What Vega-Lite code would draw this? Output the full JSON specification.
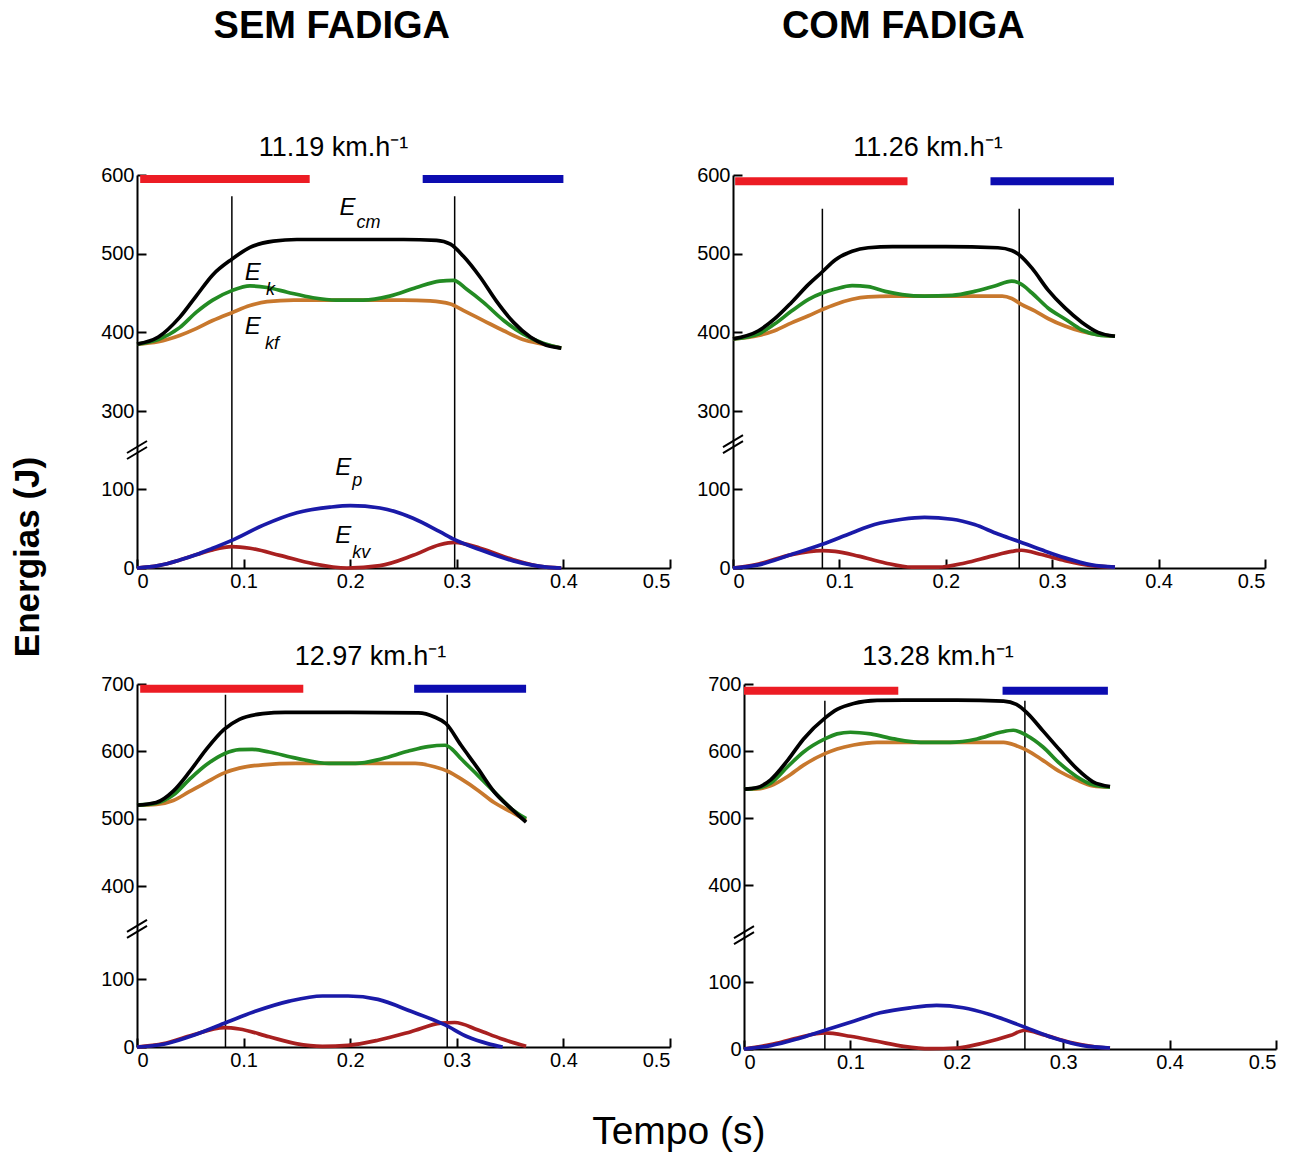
{
  "$schema": "https://vega.github.io/schema/vega-lite/v6.json",
  "background": "white",
  "padding": {"left": 10, "top": 8, "right": 5, "bottom": 5},
  "config": {
    "view": {"stroke": null},
    "font": "Liberation Sans",
    "axis": {"domainColor": "#000", "domainWidth": 2, "tickColor": "#000", "tickWidth": 2, "tickSize": -9, "labelPadding": 12, "labelFont": "Liberation Sans", "labelFontSize": 20, "labelColor": "#000", "grid": false},
    "title": {"font": "Liberation Sans", "fontSize": 27, "fontWeight": "normal", "color": "#000", "offset": 3}
  },
  "datasets": {
    "lines": [
      {"p":1,"s":"kf","t":0,"E":385},{"p":1,"s":"kf","t":0.02,"E":388},{"p":1,"s":"kf","t":0.04,"E":396},{"p":1,"s":"kf","t":0.056,"E":405},{"p":1,"s":"kf","t":0.071,"E":415},{"p":1,"s":"kf","t":0.089,"E":425},{"p":1,"s":"kf","t":0.106,"E":434},{"p":1,"s":"kf","t":0.122,"E":439},{"p":1,"s":"kf","t":0.147,"E":441},{"p":1,"s":"kf","t":0.2,"E":441},{"p":1,"s":"kf","t":0.25,"E":441},{"p":1,"s":"kf","t":0.275,"E":440},{"p":1,"s":"kf","t":0.294,"E":436},{"p":1,"s":"kf","t":0.306,"E":428},{"p":1,"s":"kf","t":0.325,"E":415},{"p":1,"s":"kf","t":0.344,"E":402},{"p":1,"s":"kf","t":0.362,"E":391},{"p":1,"s":"kf","t":0.381,"E":385},{"p":1,"s":"kf","t":0.398,"E":380},
      {"p":1,"s":"k","t":0,"E":385},{"p":1,"s":"k","t":0.02,"E":391},{"p":1,"s":"k","t":0.04,"E":406},{"p":1,"s":"k","t":0.056,"E":426},{"p":1,"s":"k","t":0.071,"E":441},{"p":1,"s":"k","t":0.089,"E":453},{"p":1,"s":"k","t":0.106,"E":459},{"p":1,"s":"k","t":0.122,"E":457},{"p":1,"s":"k","t":0.141,"E":451},{"p":1,"s":"k","t":0.165,"E":444},{"p":1,"s":"k","t":0.187,"E":441},{"p":1,"s":"k","t":0.212,"E":441},{"p":1,"s":"k","t":0.237,"E":446},{"p":1,"s":"k","t":0.262,"E":457},{"p":1,"s":"k","t":0.284,"E":465},{"p":1,"s":"k","t":0.297,"E":466},{"p":1,"s":"k","t":0.309,"E":455},{"p":1,"s":"k","t":0.325,"E":438},{"p":1,"s":"k","t":0.344,"E":415},{"p":1,"s":"k","t":0.362,"E":398},{"p":1,"s":"k","t":0.381,"E":386},{"p":1,"s":"k","t":0.398,"E":380},
      {"p":1,"s":"cm","t":0,"E":385},{"p":1,"s":"cm","t":0.02,"E":394},{"p":1,"s":"cm","t":0.04,"E":419},{"p":1,"s":"cm","t":0.056,"E":447},{"p":1,"s":"cm","t":0.071,"E":473},{"p":1,"s":"cm","t":0.089,"E":493},{"p":1,"s":"cm","t":0.106,"E":508},{"p":1,"s":"cm","t":0.128,"E":516},{"p":1,"s":"cm","t":0.15,"E":518},{"p":1,"s":"cm","t":0.2,"E":518},{"p":1,"s":"cm","t":0.25,"E":518},{"p":1,"s":"cm","t":0.281,"E":517},{"p":1,"s":"cm","t":0.294,"E":512},{"p":1,"s":"cm","t":0.306,"E":497},{"p":1,"s":"cm","t":0.322,"E":470},{"p":1,"s":"cm","t":0.337,"E":440},{"p":1,"s":"cm","t":0.353,"E":413},{"p":1,"s":"cm","t":0.369,"E":394},{"p":1,"s":"cm","t":0.384,"E":383.5},{"p":1,"s":"cm","t":0.398,"E":380},
      {"p":1,"s":"kv","t":0,"E":0},{"p":1,"s":"kv","t":0.02,"E":3},{"p":1,"s":"kv","t":0.04,"E":10},{"p":1,"s":"kv","t":0.056,"E":17},{"p":1,"s":"kv","t":0.071,"E":23},{"p":1,"s":"kv","t":0.089,"E":27},{"p":1,"s":"kv","t":0.106,"E":25},{"p":1,"s":"kv","t":0.134,"E":16},{"p":1,"s":"kv","t":0.165,"E":5.5},{"p":1,"s":"kv","t":0.197,"E":0},{"p":1,"s":"kv","t":0.228,"E":3},{"p":1,"s":"kv","t":0.259,"E":16},{"p":1,"s":"kv","t":0.284,"E":29.5},{"p":1,"s":"kv","t":0.298,"E":32.5},{"p":1,"s":"kv","t":0.322,"E":25},{"p":1,"s":"kv","t":0.353,"E":10.5},{"p":1,"s":"kv","t":0.378,"E":2},{"p":1,"s":"kv","t":0.398,"E":0},
      {"p":1,"s":"p","t":0,"E":0},{"p":1,"s":"p","t":0.02,"E":3},{"p":1,"s":"p","t":0.04,"E":10},{"p":1,"s":"p","t":0.056,"E":17},{"p":1,"s":"p","t":0.071,"E":25},{"p":1,"s":"p","t":0.089,"E":35},{"p":1,"s":"p","t":0.118,"E":54},{"p":1,"s":"p","t":0.15,"E":70},{"p":1,"s":"p","t":0.181,"E":77},{"p":1,"s":"p","t":0.2,"E":79},{"p":1,"s":"p","t":0.228,"E":76},{"p":1,"s":"p","t":0.259,"E":63},{"p":1,"s":"p","t":0.284,"E":46},{"p":1,"s":"p","t":0.298,"E":36},{"p":1,"s":"p","t":0.322,"E":23},{"p":1,"s":"p","t":0.353,"E":9},{"p":1,"s":"p","t":0.384,"E":1},{"p":1,"s":"p","t":0.398,"E":0},

      {"p":2,"s":"kf","t":0,"E":391.6},{"p":2,"s":"kf","t":0.024,"E":396},{"p":2,"s":"kf","t":0.039,"E":402},{"p":2,"s":"kf","t":0.055,"E":412},{"p":2,"s":"kf","t":0.071,"E":421},{"p":2,"s":"kf","t":0.084,"E":429},{"p":2,"s":"kf","t":0.096,"E":435.5},{"p":2,"s":"kf","t":0.112,"E":442},{"p":2,"s":"kf","t":0.127,"E":445},{"p":2,"s":"kf","t":0.149,"E":446},{"p":2,"s":"kf","t":0.2,"E":446},{"p":2,"s":"kf","t":0.253,"E":446},{"p":2,"s":"kf","t":0.262,"E":443},{"p":2,"s":"kf","t":0.271,"E":435.6},{"p":2,"s":"kf","t":0.284,"E":427},{"p":2,"s":"kf","t":0.296,"E":417.6},{"p":2,"s":"kf","t":0.312,"E":408},{"p":2,"s":"kf","t":0.328,"E":401},{"p":2,"s":"kf","t":0.343,"E":397},{"p":2,"s":"kf","t":0.359,"E":395},
      {"p":2,"s":"k","t":0,"E":391.6},{"p":2,"s":"k","t":0.024,"E":398},{"p":2,"s":"k","t":0.039,"E":410.5},{"p":2,"s":"k","t":0.055,"E":427},{"p":2,"s":"k","t":0.071,"E":442},{"p":2,"s":"k","t":0.084,"E":450},{"p":2,"s":"k","t":0.096,"E":455},{"p":2,"s":"k","t":0.112,"E":459.4},{"p":2,"s":"k","t":0.127,"E":458},{"p":2,"s":"k","t":0.143,"E":452},{"p":2,"s":"k","t":0.159,"E":448},{"p":2,"s":"k","t":0.18,"E":446},{"p":2,"s":"k","t":0.206,"E":447},{"p":2,"s":"k","t":0.227,"E":452},{"p":2,"s":"k","t":0.246,"E":459},{"p":2,"s":"k","t":0.262,"E":465},{"p":2,"s":"k","t":0.27,"E":462},{"p":2,"s":"k","t":0.281,"E":450},{"p":2,"s":"k","t":0.296,"E":431},{"p":2,"s":"k","t":0.312,"E":417},{"p":2,"s":"k","t":0.328,"E":403},{"p":2,"s":"k","t":0.343,"E":396.7},{"p":2,"s":"k","t":0.359,"E":395},
      {"p":2,"s":"cm","t":0,"E":391.6},{"p":2,"s":"cm","t":0.024,"E":402},{"p":2,"s":"cm","t":0.039,"E":417},{"p":2,"s":"cm","t":0.055,"E":438},{"p":2,"s":"cm","t":0.071,"E":461},{"p":2,"s":"cm","t":0.084,"E":477},{"p":2,"s":"cm","t":0.096,"E":492},{"p":2,"s":"cm","t":0.112,"E":503},{"p":2,"s":"cm","t":0.127,"E":507.5},{"p":2,"s":"cm","t":0.15,"E":509},{"p":2,"s":"cm","t":0.2,"E":509},{"p":2,"s":"cm","t":0.249,"E":507.5},{"p":2,"s":"cm","t":0.262,"E":504},{"p":2,"s":"cm","t":0.268,"E":499.6},{"p":2,"s":"cm","t":0.281,"E":481.6},{"p":2,"s":"cm","t":0.296,"E":454},{"p":2,"s":"cm","t":0.312,"E":431},{"p":2,"s":"cm","t":0.328,"E":412.6},{"p":2,"s":"cm","t":0.343,"E":400},{"p":2,"s":"cm","t":0.359,"E":395},
      {"p":2,"s":"kv","t":0,"E":0},{"p":2,"s":"kv","t":0.024,"E":5},{"p":2,"s":"kv","t":0.055,"E":17},{"p":2,"s":"kv","t":0.084,"E":22},{"p":2,"s":"kv","t":0.096,"E":21},{"p":2,"s":"kv","t":0.118,"E":15},{"p":2,"s":"kv","t":0.143,"E":6.4},{"p":2,"s":"kv","t":0.168,"E":1},{"p":2,"s":"kv","t":0.193,"E":1},{"p":2,"s":"kv","t":0.218,"E":6.4},{"p":2,"s":"kv","t":0.243,"E":15},{"p":2,"s":"kv","t":0.262,"E":21},{"p":2,"s":"kv","t":0.271,"E":22.5},{"p":2,"s":"kv","t":0.29,"E":17},{"p":2,"s":"kv","t":0.312,"E":9.4},{"p":2,"s":"kv","t":0.337,"E":3},{"p":2,"s":"kv","t":0.359,"E":1},
      {"p":2,"s":"p","t":0,"E":0},{"p":2,"s":"p","t":0.024,"E":4},{"p":2,"s":"p","t":0.055,"E":17},{"p":2,"s":"p","t":0.084,"E":30},{"p":2,"s":"p","t":0.112,"E":44.7},{"p":2,"s":"p","t":0.133,"E":55},{"p":2,"s":"p","t":0.159,"E":61.7},{"p":2,"s":"p","t":0.18,"E":64},{"p":2,"s":"p","t":0.206,"E":61.7},{"p":2,"s":"p","t":0.227,"E":55},{"p":2,"s":"p","t":0.249,"E":43},{"p":2,"s":"p","t":0.268,"E":34},{"p":2,"s":"p","t":0.29,"E":23},{"p":2,"s":"p","t":0.312,"E":12.8},{"p":2,"s":"p","t":0.337,"E":4},{"p":2,"s":"p","t":0.359,"E":1},

      {"p":3,"s":"kf","t":0,"E":520},{"p":3,"s":"kf","t":0.018,"E":521},{"p":3,"s":"kf","t":0.034,"E":527},{"p":3,"s":"kf","t":0.049,"E":540},{"p":3,"s":"kf","t":0.065,"E":554},{"p":3,"s":"kf","t":0.082,"E":568},{"p":3,"s":"kf","t":0.096,"E":575},{"p":3,"s":"kf","t":0.118,"E":580},{"p":3,"s":"kf","t":0.149,"E":582},{"p":3,"s":"kf","t":0.2,"E":582},{"p":3,"s":"kf","t":0.261,"E":582},{"p":3,"s":"kf","t":0.279,"E":577},{"p":3,"s":"kf","t":0.292,"E":570},{"p":3,"s":"kf","t":0.304,"E":559},{"p":3,"s":"kf","t":0.32,"E":542},{"p":3,"s":"kf","t":0.335,"E":524},{"p":3,"s":"kf","t":0.351,"E":510},{"p":3,"s":"kf","t":0.365,"E":497.5},
      {"p":3,"s":"k","t":0,"E":520},{"p":3,"s":"k","t":0.018,"E":523},{"p":3,"s":"k","t":0.034,"E":535},{"p":3,"s":"k","t":0.049,"E":558},{"p":3,"s":"k","t":0.065,"E":580},{"p":3,"s":"k","t":0.082,"E":596.5},{"p":3,"s":"k","t":0.096,"E":602.5},{"p":3,"s":"k","t":0.108,"E":603},{"p":3,"s":"k","t":0.124,"E":599},{"p":3,"s":"k","t":0.149,"E":590},{"p":3,"s":"k","t":0.18,"E":582},{"p":3,"s":"k","t":0.205,"E":582},{"p":3,"s":"k","t":0.23,"E":589},{"p":3,"s":"k","t":0.254,"E":600},{"p":3,"s":"k","t":0.273,"E":607},{"p":3,"s":"k","t":0.289,"E":609},{"p":3,"s":"k","t":0.295,"E":604},{"p":3,"s":"k","t":0.304,"E":589},{"p":3,"s":"k","t":0.32,"E":564},{"p":3,"s":"k","t":0.335,"E":540},{"p":3,"s":"k","t":0.351,"E":515},{"p":3,"s":"k","t":0.365,"E":500},
      {"p":3,"s":"cm","t":0,"E":520},{"p":3,"s":"cm","t":0.018,"E":524},{"p":3,"s":"cm","t":0.034,"E":541},{"p":3,"s":"cm","t":0.049,"E":569},{"p":3,"s":"cm","t":0.065,"E":603},{"p":3,"s":"cm","t":0.082,"E":633},{"p":3,"s":"cm","t":0.096,"E":647.5},{"p":3,"s":"cm","t":0.118,"E":656},{"p":3,"s":"cm","t":0.139,"E":658},{"p":3,"s":"cm","t":0.2,"E":658},{"p":3,"s":"cm","t":0.264,"E":657},{"p":3,"s":"cm","t":0.279,"E":651},{"p":3,"s":"cm","t":0.29,"E":641},{"p":3,"s":"cm","t":0.304,"E":609},{"p":3,"s":"cm","t":0.32,"E":574},{"p":3,"s":"cm","t":0.335,"E":540},{"p":3,"s":"cm","t":0.351,"E":515},{"p":3,"s":"cm","t":0.365,"E":495},
      {"p":3,"s":"kv","t":0,"E":0},{"p":3,"s":"kv","t":0.025,"E":5},{"p":3,"s":"kv","t":0.049,"E":16},{"p":3,"s":"kv","t":0.082,"E":28.5},{"p":3,"s":"kv","t":0.096,"E":26.5},{"p":3,"s":"kv","t":0.124,"E":15},{"p":3,"s":"kv","t":0.149,"E":5},{"p":3,"s":"kv","t":0.174,"E":1},{"p":3,"s":"kv","t":0.198,"E":2.5},{"p":3,"s":"kv","t":0.226,"E":10},{"p":3,"s":"kv","t":0.257,"E":22.5},{"p":3,"s":"kv","t":0.285,"E":35},{"p":3,"s":"kv","t":0.298,"E":36},{"p":3,"s":"kv","t":0.32,"E":25},{"p":3,"s":"kv","t":0.341,"E":12.5},{"p":3,"s":"kv","t":0.365,"E":1},
      {"p":3,"s":"p","t":0,"E":0},{"p":3,"s":"p","t":0.025,"E":4},{"p":3,"s":"p","t":0.049,"E":15},{"p":3,"s":"p","t":0.082,"E":35},{"p":3,"s":"p","t":0.111,"E":52.5},{"p":3,"s":"p","t":0.143,"E":67.5},{"p":3,"s":"p","t":0.174,"E":75},{"p":3,"s":"p","t":0.198,"E":75},{"p":3,"s":"p","t":0.226,"E":70},{"p":3,"s":"p","t":0.257,"E":52.5},{"p":3,"s":"p","t":0.289,"E":32.5},{"p":3,"s":"p","t":0.31,"E":15},{"p":3,"s":"p","t":0.329,"E":5},{"p":3,"s":"p","t":0.343,"E":0},

      {"p":4,"s":"kf","t":0,"E":543},{"p":4,"s":"kf","t":0.0125,"E":543.5},{"p":4,"s":"kf","t":0.025,"E":548},{"p":4,"s":"kf","t":0.041,"E":562},{"p":4,"s":"kf","t":0.056,"E":579},{"p":4,"s":"kf","t":0.076,"E":596},{"p":4,"s":"kf","t":0.0875,"E":603},{"p":4,"s":"kf","t":0.103,"E":609},{"p":4,"s":"kf","t":0.125,"E":613},{"p":4,"s":"kf","t":0.156,"E":613},{"p":4,"s":"kf","t":0.2,"E":613},{"p":4,"s":"kf","t":0.244,"E":613},{"p":4,"s":"kf","t":0.256,"E":608},{"p":4,"s":"kf","t":0.266,"E":601},{"p":4,"s":"kf","t":0.281,"E":586},{"p":4,"s":"kf","t":0.297,"E":569},{"p":4,"s":"kf","t":0.3125,"E":557},{"p":4,"s":"kf","t":0.328,"E":548},{"p":4,"s":"kf","t":0.344,"E":546},
      {"p":4,"s":"k","t":0,"E":543},{"p":4,"s":"k","t":0.0125,"E":544.6},{"p":4,"s":"k","t":0.025,"E":552},{"p":4,"s":"k","t":0.041,"E":576.5},{"p":4,"s":"k","t":0.056,"E":598.5},{"p":4,"s":"k","t":0.076,"E":618},{"p":4,"s":"k","t":0.0875,"E":625.5},{"p":4,"s":"k","t":0.1,"E":628},{"p":4,"s":"k","t":0.119,"E":625.5},{"p":4,"s":"k","t":0.141,"E":618},{"p":4,"s":"k","t":0.166,"E":613},{"p":4,"s":"k","t":0.194,"E":613},{"p":4,"s":"k","t":0.219,"E":618},{"p":4,"s":"k","t":0.241,"E":628},{"p":4,"s":"k","t":0.253,"E":631},{"p":4,"s":"k","t":0.266,"E":623},{"p":4,"s":"k","t":0.281,"E":606},{"p":4,"s":"k","t":0.297,"E":581},{"p":4,"s":"k","t":0.3125,"E":562},{"p":4,"s":"k","t":0.328,"E":549.5},{"p":4,"s":"k","t":0.344,"E":546},
      {"p":4,"s":"cm","t":0,"E":543},{"p":4,"s":"cm","t":0.0125,"E":545.5},{"p":4,"s":"cm","t":0.025,"E":557},{"p":4,"s":"cm","t":0.041,"E":586},{"p":4,"s":"cm","t":0.056,"E":618},{"p":4,"s":"cm","t":0.076,"E":649},{"p":4,"s":"cm","t":0.0875,"E":662},{"p":4,"s":"cm","t":0.103,"E":671},{"p":4,"s":"cm","t":0.125,"E":675.5},{"p":4,"s":"cm","t":0.15,"E":676},{"p":4,"s":"cm","t":0.2,"E":676},{"p":4,"s":"cm","t":0.244,"E":674.5},{"p":4,"s":"cm","t":0.256,"E":669.6},{"p":4,"s":"cm","t":0.266,"E":657},{"p":4,"s":"cm","t":0.281,"E":630},{"p":4,"s":"cm","t":0.297,"E":601},{"p":4,"s":"cm","t":0.3125,"E":574},{"p":4,"s":"cm","t":0.328,"E":554},{"p":4,"s":"cm","t":0.344,"E":547},
      {"p":4,"s":"kv","t":0,"E":0},{"p":4,"s":"kv","t":0.025,"E":6.5},{"p":4,"s":"kv","t":0.05,"E":16.5},{"p":4,"s":"kv","t":0.076,"E":24},{"p":4,"s":"kv","t":0.1,"E":19},{"p":4,"s":"kv","t":0.125,"E":11.5},{"p":4,"s":"kv","t":0.15,"E":4},{"p":4,"s":"kv","t":0.175,"E":0.5},{"p":4,"s":"kv","t":0.2,"E":1.5},{"p":4,"s":"kv","t":0.225,"E":9},{"p":4,"s":"kv","t":0.25,"E":20},{"p":4,"s":"kv","t":0.264,"E":28},{"p":4,"s":"kv","t":0.281,"E":21.5},{"p":4,"s":"kv","t":0.306,"E":10},{"p":4,"s":"kv","t":0.331,"E":3},{"p":4,"s":"kv","t":0.344,"E":1.5},
      {"p":4,"s":"p","t":0,"E":0},{"p":4,"s":"p","t":0.025,"E":5},{"p":4,"s":"p","t":0.05,"E":15},{"p":4,"s":"p","t":0.076,"E":28},{"p":4,"s":"p","t":0.103,"E":41.5},{"p":4,"s":"p","t":0.128,"E":54},{"p":4,"s":"p","t":0.156,"E":61.5},{"p":4,"s":"p","t":0.181,"E":65},{"p":4,"s":"p","t":0.206,"E":61.5},{"p":4,"s":"p","t":0.231,"E":51.5},{"p":4,"s":"p","t":0.264,"E":32.5},{"p":4,"s":"p","t":0.291,"E":16.5},{"p":4,"s":"p","t":0.319,"E":5},{"p":4,"s":"p","t":0.344,"E":1.5}
    ],
    "vlines": [
      {"p":1,"t":0.089,"E":573,"E2":0},{"p":1,"t":0.298,"E":573,"E2":0},
      {"p":2,"t":0.084,"E":557,"E2":0},{"p":2,"t":0.269,"E":557,"E2":0},
      {"p":3,"t":0.083,"E":684,"E2":0},{"p":3,"t":0.291,"E":684,"E2":0},
      {"p":4,"t":0.076,"E":675,"E2":0},{"p":4,"t":0.264,"E":675,"E2":0}
    ],
    "bars": [
      {"p":1,"fase":"A","t":0.003,"t2":0.162,"E":595},{"p":1,"fase":"B","t":0.268,"t2":0.4,"E":595},
      {"p":2,"fase":"A","t":0.002,"t2":0.164,"E":592},{"p":2,"fase":"B","t":0.242,"t2":0.358,"E":592},
      {"p":3,"fase":"A","t":0.003,"t2":0.156,"E":693},{"p":3,"fase":"B","t":0.26,"t2":0.365,"E":693},
      {"p":4,"fase":"A","t":0.0,"t2":0.145,"E":690},{"p":4,"fase":"B","t":0.243,"t2":0.342,"E":690}
    ],
    "breaks": [
      {"p":1,"t":0,"E":200},{"p":2,"t":0,"E":215},{"p":3,"t":0,"E":262},{"p":4,"t":0,"E":245}
    ],
    "labels": [
      {"kind":"main","t":0.19,"E":549,"txt":"E"},{"kind":"sub","t":0.206,"E":533,"txt":"cm"},
      {"kind":"main","t":0.101,"E":466,"txt":"E"},{"kind":"sub","t":0.121,"E":448,"txt":"k"},
      {"kind":"main","t":0.101,"E":397.5,"txt":"E"},{"kind":"sub","t":0.12,"E":378.5,"txt":"kf"},
      {"kind":"main","t":0.186,"E":136,"txt":"E"},{"kind":"sub","t":0.202,"E":108,"txt":"p"},
      {"kind":"main","t":0.186,"E":31.6,"txt":"E"},{"kind":"sub","t":0.202,"E":12.7,"txt":"kv"}
    ]
  },
  "title": {"text": "Tempo (s)", "orient": "bottom", "anchor": "middle", "fontSize": 39, "offset": 41, "dx": 35},
  "vconcat": [
    {
      "title": {"text": "Energias (J)", "orient": "left", "anchor": "middle", "fontSize": 35, "fontWeight": "bold", "offset": 55, "dx": -17},
      "spacing": 52,
      "vconcat": [
        {
          "spacing": 25,
          "hconcat": [
            {
              "title": {"text": "SEM FADIGA", "anchor": "middle", "fontSize": 38, "fontWeight": "bold", "offset": 88, "dx": -54},
              "vconcat": [
                {
                  "title": {"text": "11.19 km.h⁻¹", "dx": -70},
                  "width": 533, "height": 393,
                  "encoding": {
                    "x": {"field": "t", "type": "quantitative", "title": null, "scale": {"domain": [0, 0.5], "nice": false, "zero": false}, "axis": {"values": [0, 0.1, 0.2, 0.3, 0.4, 0.5], "format": ".1~f"}},
                    "y": {"field": "E", "type": "quantitative", "title": null, "scale": {"domain": [0, 100, 300, 600], "range": [393, 314, 236, 0], "nice": false, "zero": false}, "axis": {"values": [0, 100, 300, 400, 500, 600], "format": "d"}}
                  },
                  "layer": [
                    {"data": {"name": "bars"}, "transform": [{"filter": "datum.p == 1"}], "mark": {"type": "rule", "strokeWidth": 8}, "encoding": {"x2": {"field": "t2"}, "stroke": {"field": "fase", "type": "nominal", "scale": {"domain": ["A", "B"], "range": ["#ec1c24", "#0c0cb0"]}, "legend": null}}},
                    {"data": {"name": "vlines"}, "transform": [{"filter": "datum.p == 1"}], "mark": {"type": "rule", "strokeWidth": 1.5, "color": "#000"}, "encoding": {"y2": {"field": "E2"}}},
                    {"data": {"name": "lines"}, "transform": [{"filter": "datum.p == 1"}], "mark": {"type": "line", "strokeWidth": 3.7, "interpolate": "monotone"}, "encoding": {"color": {"field": "s", "type": "nominal", "sort": null, "scale": {"domain": ["kf", "k", "cm", "kv", "p"], "range": ["#c8782d", "#238b23", "#000000", "#a82020", "#1a1aa8"]}, "legend": null}}},
                    {"data": {"name": "breaks"}, "transform": [{"filter": "datum.p == 1"}], "mark": {"type": "point", "shape": "M-1,0.9L1,-0.3M-1,0.3L1,-0.9", "size": 400, "filled": false, "stroke": "#000", "strokeWidth": 2, "opacity": 1}},
                    {"data": {"name": "labels"}, "transform": [{"filter": "datum.kind == 'main'"}], "mark": {"type": "text", "align": "left", "baseline": "alphabetic", "fontSize": 24, "fontStyle": "italic", "color": "#000"}, "encoding": {"text": {"field": "txt"}}},
                    {"data": {"name": "labels"}, "transform": [{"filter": "datum.kind == 'sub'"}], "mark": {"type": "text", "align": "left", "baseline": "alphabetic", "fontSize": 18, "fontStyle": "italic", "color": "#000"}, "encoding": {"text": {"field": "txt"}}}
                  ]
                }
              ]
            },
            {
              "title": {"text": "COM FADIGA", "anchor": "middle", "fontSize": 38, "fontWeight": "bold", "offset": 88, "dx": -78},
              "vconcat": [
                {
                  "title": {"text": "11.26 km.h⁻¹", "dx": -71},
                  "width": 532, "height": 393,
                  "encoding": {
                    "x": {"field": "t", "type": "quantitative", "title": null, "scale": {"domain": [0, 0.5], "nice": false, "zero": false}, "axis": {"values": [0, 0.1, 0.2, 0.3, 0.4, 0.5], "format": ".1~f"}},
                    "y": {"field": "E", "type": "quantitative", "title": null, "scale": {"domain": [0, 100, 300, 600], "range": [393, 314, 236, 0], "nice": false, "zero": false}, "axis": {"values": [0, 100, 300, 400, 500, 600], "format": "d"}}
                  },
                  "layer": [
                    {"data": {"name": "bars"}, "transform": [{"filter": "datum.p == 2"}], "mark": {"type": "rule", "strokeWidth": 8}, "encoding": {"x2": {"field": "t2"}, "stroke": {"field": "fase", "type": "nominal", "scale": {"domain": ["A", "B"], "range": ["#ec1c24", "#0c0cb0"]}, "legend": null}}},
                    {"data": {"name": "vlines"}, "transform": [{"filter": "datum.p == 2"}], "mark": {"type": "rule", "strokeWidth": 1.5, "color": "#000"}, "encoding": {"y2": {"field": "E2"}}},
                    {"data": {"name": "lines"}, "transform": [{"filter": "datum.p == 2"}], "mark": {"type": "line", "strokeWidth": 3.7, "interpolate": "monotone"}, "encoding": {"color": {"field": "s", "type": "nominal", "sort": null, "scale": {"domain": ["kf", "k", "cm", "kv", "p"], "range": ["#c8782d", "#238b23", "#000000", "#a82020", "#1a1aa8"]}, "legend": null}}},
                    {"data": {"name": "breaks"}, "transform": [{"filter": "datum.p == 2"}], "mark": {"type": "point", "shape": "M-1,0.9L1,-0.3M-1,0.3L1,-0.9", "size": 400, "filled": false, "stroke": "#000", "strokeWidth": 2, "opacity": 1}}
                  ]
                }
              ]
            }
          ]
        },
        {
          "spacing": 36,
          "hconcat": [
            {
              "title": {"text": "12.97 km.h⁻¹", "dx": -33},
              "width": 533, "height": 363,
              "encoding": {
                "x": {"field": "t", "type": "quantitative", "title": null, "scale": {"domain": [0, 0.5], "nice": false, "zero": false}, "axis": {"values": [0, 0.1, 0.2, 0.3, 0.4, 0.5], "format": ".1~f"}},
                "y": {"field": "E", "type": "quantitative", "title": null, "scale": {"domain": [0, 100, 400, 700], "range": [363, 295, 202, 0], "nice": false, "zero": false}, "axis": {"values": [0, 100, 400, 500, 600, 700], "format": "d"}}
              },
              "layer": [
                {"data": {"name": "bars"}, "transform": [{"filter": "datum.p == 3"}], "mark": {"type": "rule", "strokeWidth": 8}, "encoding": {"x2": {"field": "t2"}, "stroke": {"field": "fase", "type": "nominal", "scale": {"domain": ["A", "B"], "range": ["#ec1c24", "#0c0cb0"]}, "legend": null}}},
                {"data": {"name": "vlines"}, "transform": [{"filter": "datum.p == 3"}], "mark": {"type": "rule", "strokeWidth": 1.5, "color": "#000"}, "encoding": {"y2": {"field": "E2"}}},
                {"data": {"name": "lines"}, "transform": [{"filter": "datum.p == 3"}], "mark": {"type": "line", "strokeWidth": 3.7, "interpolate": "monotone"}, "encoding": {"color": {"field": "s", "type": "nominal", "sort": null, "scale": {"domain": ["kf", "k", "cm", "kv", "p"], "range": ["#c8782d", "#238b23", "#000000", "#a82020", "#1a1aa8"]}, "legend": null}}},
                {"data": {"name": "breaks"}, "transform": [{"filter": "datum.p == 3"}], "mark": {"type": "point", "shape": "M-1,0.9L1,-0.3M-1,0.3L1,-0.9", "size": 400, "filled": false, "stroke": "#000", "strokeWidth": 2, "opacity": 1}}
              ]
            },
            {
              "title": {"text": "13.28 km.h⁻¹", "dx": -72},
              "width": 532, "height": 365,
              "encoding": {
                "x": {"field": "t", "type": "quantitative", "title": null, "scale": {"domain": [0, 0.5], "nice": false, "zero": false}, "axis": {"values": [0, 0.1, 0.2, 0.3, 0.4, 0.5], "format": ".1~f"}},
                "y": {"field": "E", "type": "quantitative", "title": null, "scale": {"domain": [0, 100, 400, 700], "range": [365, 298, 201, 0], "nice": false, "zero": false}, "axis": {"values": [0, 100, 400, 500, 600, 700], "format": "d"}}
              },
              "layer": [
                {"data": {"name": "bars"}, "transform": [{"filter": "datum.p == 4"}], "mark": {"type": "rule", "strokeWidth": 8}, "encoding": {"x2": {"field": "t2"}, "stroke": {"field": "fase", "type": "nominal", "scale": {"domain": ["A", "B"], "range": ["#ec1c24", "#0c0cb0"]}, "legend": null}}},
                {"data": {"name": "vlines"}, "transform": [{"filter": "datum.p == 4"}], "mark": {"type": "rule", "strokeWidth": 1.5, "color": "#000"}, "encoding": {"y2": {"field": "E2"}}},
                {"data": {"name": "lines"}, "transform": [{"filter": "datum.p == 4"}], "mark": {"type": "line", "strokeWidth": 3.7, "interpolate": "monotone"}, "encoding": {"color": {"field": "s", "type": "nominal", "sort": null, "scale": {"domain": ["kf", "k", "cm", "kv", "p"], "range": ["#c8782d", "#238b23", "#000000", "#a82020", "#1a1aa8"]}, "legend": null}}},
                {"data": {"name": "breaks"}, "transform": [{"filter": "datum.p == 4"}], "mark": {"type": "point", "shape": "M-1,0.9L1,-0.3M-1,0.3L1,-0.9", "size": 400, "filled": false, "stroke": "#000", "strokeWidth": 2, "opacity": 1}}
              ]
            }
          ]
        }
      ]
    }
  ]
}
